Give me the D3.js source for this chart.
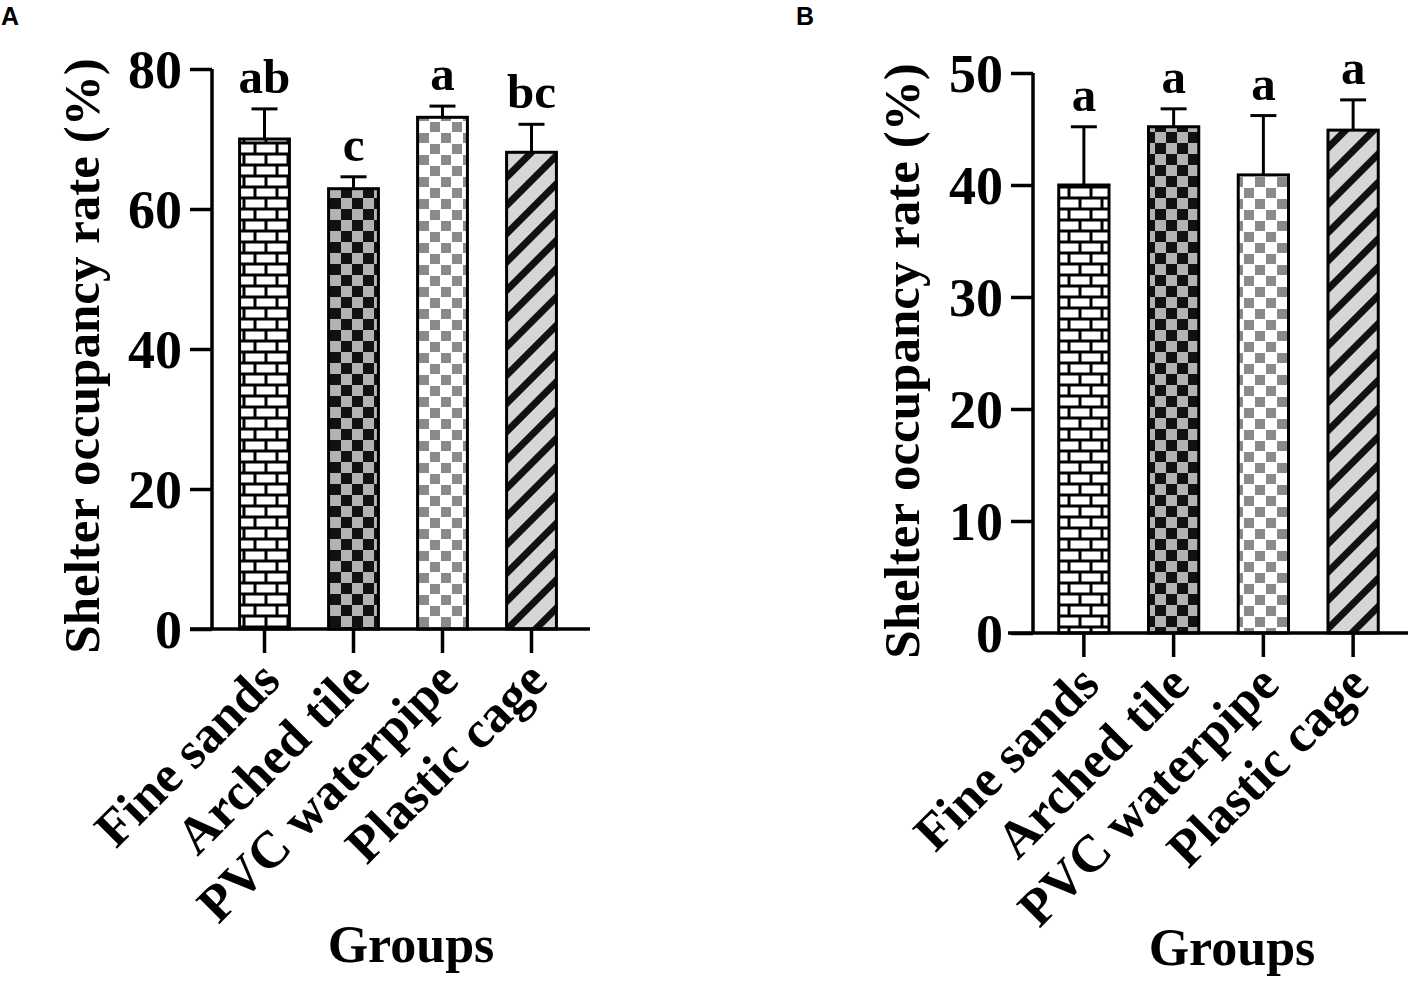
<!DOCTYPE html>
<html><head><meta charset="utf-8">
<script src="https://cdn.jsdelivr.net/npm/d3@7"></script>
<style>
html,body{margin:0;padding:0;background:#fff;}
svg{display:block;}
</style></head>
<body>
<svg id="chart" width="1410" height="984"></svg>
<script>
// ---- data ----
const categories = ["Fine sands", "Arched tile", "PVC waterpipe", "Plastic cage"];
const patternsByCategory = ["brick", "checkDark", "checkLight", "stripes"];

const meansA = [70.0, 62.9, 73.1, 68.1];
const errTopA = [74.3, 64.6, 74.7, 72.1];
const lettersA = ["ab", "c", "a", "bc"];
const ticksA = [0, 20, 40, 60, 80];

const meansB = [40.0, 45.2, 40.9, 44.9];
const errTopB = [45.2, 46.8, 46.2, 47.6];
const lettersB = ["a", "a", "a", "a"];
const ticksB = [0, 10, 20, 30, 40, 50];

const yTitle = "Shelter occupancy rate (%)";
const xTitle = "Groups";

// ---- setup ----
const svg = d3.select("#chart");
const SERIF = "'Liberation Serif','Times New Roman',Times,serif";
const SANS = "'Liberation Sans',Arial,Helvetica,sans-serif";
const defs = svg.append("defs");

// brick pattern
const pb = defs.append("pattern").attr("id","brick").attr("patternUnits","userSpaceOnUse")
  .attr("width",22).attr("height",22);
pb.append("rect").attr("width",22).attr("height",22).attr("fill","#fff");
pb.append("path").attr("d","M0,0H22M0,11H22M0,22H22M2,0V11M13,11V22")
  .attr("stroke","#000").attr("stroke-width",3).attr("fill","none");

// dark checker
const pcd = defs.append("pattern").attr("id","checkDark").attr("patternUnits","userSpaceOnUse")
  .attr("width",22).attr("height",22);
pcd.append("rect").attr("width",22).attr("height",22).attr("fill","#b3b3b3");
pcd.append("rect").attr("x",0).attr("y",0).attr("width",11).attr("height",11).attr("fill","#111");
pcd.append("rect").attr("x",11).attr("y",11).attr("width",11).attr("height",11).attr("fill","#111");

// light checker
const pcl = defs.append("pattern").attr("id","checkLight").attr("patternUnits","userSpaceOnUse")
  .attr("width",22).attr("height",22);
pcl.append("rect").attr("width",22).attr("height",22).attr("fill","#fff");
pcl.append("rect").attr("x",1).attr("y",1).attr("width",10).attr("height",10).attr("fill","#8a8a8a");
pcl.append("rect").attr("x",12).attr("y",12).attr("width",10).attr("height",10).attr("fill","#8a8a8a");

// stripes
const ps = defs.append("pattern").attr("id","stripes").attr("patternUnits","userSpaceOnUse")
  .attr("width",20).attr("height",20).attr("patternTransform","rotate(45)");
ps.append("rect").attr("width",20).attr("height",20).attr("fill","#d6d6d6");
ps.append("rect").attr("x",0).attr("width",7).attr("height",20).attr("fill","#111");

function drawPanel(cfg){
  const g = svg.append("g");
  const y = d3.scaleLinear().domain(cfg.domain).range([cfg.y0, cfg.y1]);
  const x = d3.scaleBand().domain(categories).range(cfg.xRange).paddingInner(0.44).paddingOuter(0.22);
  const bw = x.bandwidth();

  // bars
  g.selectAll("rect.bar").data(cfg.means).join("rect").attr("class","bar")
    .attr("x",(d,i)=>x(categories[i]))
    .attr("y",d=>y(d))
    .attr("width",bw)
    .attr("height",d=>y(0)-y(d))
    .attr("fill",(d,i)=>`url(#${patternsByCategory[i]})`)
    .attr("stroke","#000").attr("stroke-width",3);

  // error bars (upper only)
  cfg.means.forEach((m,i)=>{
    const cx = x(categories[i]) + bw/2;
    g.append("line").attr("x1",cx).attr("x2",cx).attr("y1",y(m)).attr("y2",y(cfg.err[i]))
      .attr("stroke","#000").attr("stroke-width",3);
    g.append("line").attr("x1",cx-13).attr("x2",cx+13).attr("y1",y(cfg.err[i])).attr("y2",y(cfg.err[i]))
      .attr("stroke","#000").attr("stroke-width",3);
    g.append("text").attr("x",cx).attr("y",y(cfg.err[i]) - 16)
      .attr("text-anchor","middle").attr("font-family",SERIF).attr("font-weight","bold")
      .attr("font-size",49).text(cfg.letters[i]);
  });

  // y axis
  const yAxis = d3.axisLeft(y).tickValues(cfg.ticks).tickSize(22).tickPadding(8).tickFormat(d3.format("d"));
  const ya = g.append("g").attr("transform",`translate(${cfg.axisX},0)`).call(yAxis);
  ya.select(".domain").attr("d",`M0,${cfg.y1}V${cfg.y0}`).attr("stroke","#000").attr("stroke-width",3.5);
  ya.selectAll(".tick line").attr("stroke","#000").attr("stroke-width",3.5);
  ya.selectAll(".tick text").attr("font-family",SERIF).attr("font-weight","bold")
    .attr("font-size",54).attr("fill","#000").attr("dy","0.34em");

  // x axis
  const xAxis = d3.axisBottom(x).tickSize(24).tickFormat("");
  const xa = g.append("g").attr("transform",`translate(0,${cfg.y0})`).call(xAxis);
  xa.select(".domain").attr("d",`M${cfg.xLine[0]},0H${cfg.xLine[1]}`).attr("stroke","#000").attr("stroke-width",3.5);
  xa.selectAll(".tick line").attr("stroke","#000").attr("stroke-width",3.5);
  xa.selectAll(".tick").append("text")
    .attr("transform",`translate(18,${cfg.labelY - cfg.y0}) rotate(-45)`)
    .attr("text-anchor","end").attr("font-family",SERIF).attr("font-weight","bold")
    .attr("font-size",52).attr("fill","#000").text(d=>d);

  // axis titles
  g.append("text").attr("transform",`translate(${cfg.titleX},${cfg.titleYc}) rotate(-90)`)
    .attr("text-anchor","middle").attr("font-family",SERIF).attr("font-weight","bold")
    .attr("font-size",51).text(yTitle);
  g.append("text").attr("x",cfg.groupsX).attr("y",cfg.groupsY)
    .attr("text-anchor","middle").attr("font-family",SERIF).attr("font-weight","bold")
    .attr("font-size",52).text(xTitle);

  // panel label
  g.append("text").attr("x",cfg.panelX).attr("y",25).attr("font-family",SANS).attr("font-weight","bold")
    .attr("font-size",25).text(cfg.panel);
}

drawPanel({panel:"A", panelX:1, domain:[0,80], y0:629, y1:69, axisX:212, xRange:[220,576], xLine:[190,590],
  means:meansA, err:errTopA, letters:lettersA, ticks:ticksA, labelY:683, titleX:99, titleYc:356,
  groupsX:411, groupsY:962});
drawPanel({panel:"B", panelX:796, domain:[0,50], y0:633, y1:73, axisX:1033, xRange:[1039,1398], xLine:[1008,1408],
  means:meansB, err:errTopB, letters:lettersB, ticks:ticksB, labelY:687, titleX:919, titleYc:361,
  groupsX:1232, groupsY:965});
</script>
</body></html>
